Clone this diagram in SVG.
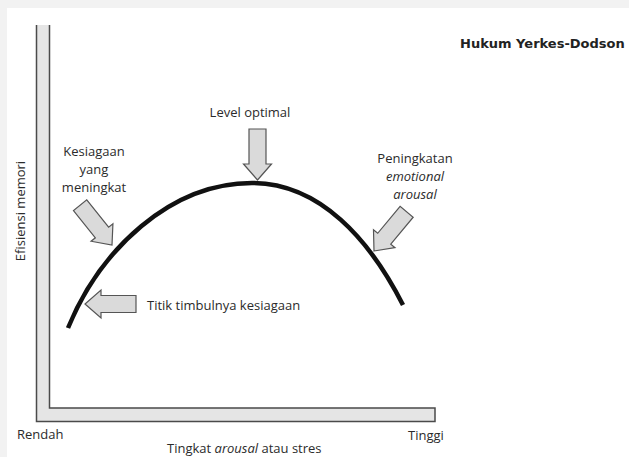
<svg xmlns="http://www.w3.org/2000/svg" width="629" height="457" viewBox="0 0 629 457">
  <style>
    .lbl { font-family: "Open Sans", "Liberation Sans", sans-serif; font-size: 13px; fill: #2b2b2b; }
    .it { font-style: italic; }
    .title { font-family: "DejaVu Sans", "Liberation Sans", sans-serif; font-size: 13px; font-weight: bold; fill: #222; }
    .pointer { fill: #dadada; stroke: #555; stroke-width: 1.2; stroke-linejoin: miter; }
    .axis-fill { fill: #e5e5e5; stroke: none; }
    .axis-edge { fill: none; stroke: #4a4a4a; stroke-width: 1.5; }
    .curve { fill: none; stroke: #111; stroke-width: 4.5; stroke-linecap: butt; }
  </style>
  <defs>
    <!-- block arrow pointing right, tip at the origin -->
    <path id="block-arrow" d="M0,0 L-16,-14 L-16,-8.5 L-51,-8.5 L-51,8.5 L-16,8.5 L-16,14 Z"/>
  </defs>

  <!-- page -->
  <rect x="0" y="0" width="629" height="457" fill="#f2f2f2"/>
  <rect x="7" y="8" width="622" height="449" fill="#ffffff"/>

  <!-- L-shaped axes -->
  <g id="axes">
    <path class="axis-fill" d="M36.5,25 V421.5 H435 V408 H49.5 V25 Z"/>
    <path class="axis-edge" d="M36.5,25 V421.5 H435 V408 H49.5 V25"/>
  </g>

  <!-- inverted-U curve -->
  <g id="curve">
    <path class="curve" d="M68,328 C100,250 170,183 252,183 C320,183 370,240 403,305"/>
  </g>

  <g id="title">
    <text class="title" x="460" y="48">Hukum Yerkes-Dodson</text>
  </g>

  <g id="label-optimal">
    <text class="lbl" x="250" y="117" text-anchor="middle">Level optimal</text>
  </g>

  <g id="label-rising">
    <text class="lbl" x="94" y="156" text-anchor="middle">Kesiagaan</text>
    <text class="lbl" x="94" y="174" text-anchor="middle">yang</text>
    <text class="lbl" x="94" y="192" text-anchor="middle">meningkat</text>
  </g>

  <g id="label-emotional">
    <text class="lbl" x="415" y="163" text-anchor="middle">Peningkatan</text>
    <text class="lbl it" x="415" y="181" text-anchor="middle">emotional</text>
    <text class="lbl it" x="415" y="199" text-anchor="middle">arousal</text>
  </g>

  <g id="label-onset">
    <text class="lbl" x="147" y="310">Titik timbulnya kesiagaan</text>
  </g>

  <g id="axis-labels">
    <text class="lbl" x="17" y="439">Rendah</text>
    <text class="lbl" x="408" y="440">Tinggi</text>
    <text class="lbl" x="167" y="453">Tingkat <tspan class="it">arousal</tspan> atau stres</text>
    <text class="lbl" transform="translate(25,211) rotate(-90)" text-anchor="middle">Efisiensi memori</text>
  </g>

  <!-- pointer arrows -->
  <g id="pointers">
    <use href="#block-arrow" class="pointer" transform="translate(257.5,180) rotate(90)"/>
    <use href="#block-arrow" class="pointer" transform="translate(112,245) rotate(51.3)"/>
    <use href="#block-arrow" class="pointer" transform="translate(374,251) rotate(129.8)"/>
    <use href="#block-arrow" class="pointer" transform="translate(85,304) rotate(180)"/>
  </g>
</svg>
